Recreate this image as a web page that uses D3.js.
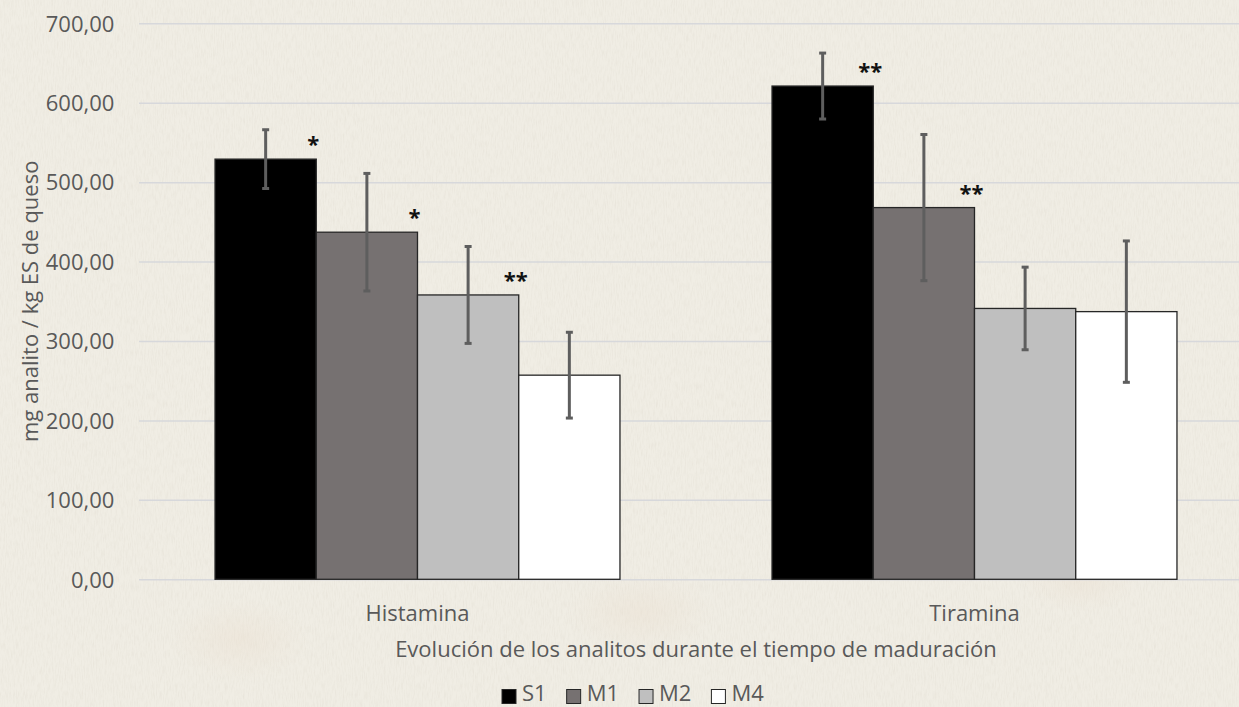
<!DOCTYPE html>
<html>
<head>
<meta charset="utf-8">
<script src="https://cdn.jsdelivr.net/npm/d3@7"></script>
<style>
  html, body { margin: 0; padding: 0; background: #f0ede4; }
  svg { display: block; }
  text { font-family: "Open Sans", "Noto Sans", sans-serif; }
</style>
</head>
<body>
<svg id="chart" width="1239" height="707"></svg>
<script>
// Concentraciones medias (mg analito / kg ES de queso) por analito y muestra
const categories = ["Histamina", "Tiramina"];
const seriesNames = ["S1", "M1", "M2", "M4"];
const valuesS1 = [529, 621];
const valuesM1 = [437, 468];
const valuesM2 = [358, 341];
const valuesM4 = [257, 337];
// Desviaciones (barras de error)
const errorS1 = [37, 41.5];
const errorM1 = [74, 92];
const errorM2 = [61, 52];
const errorM4 = [54, 89];
// Marcas de significación sobre cada barra
const signifS1 = ["*", "**"];
const signifM1 = ["*", "**"];
const signifM2 = ["**", ""];
const signifM4 = ["", ""];
const yTicks = [0, 100, 200, 300, 400, 500, 600, 700];
const yTitle = "mg analito / kg ES de queso";
const xTitle = "Evolución de los analitos durante el tiempo de maduración";

const seriesColors = { S1: "#000000", M1: "#767171", M2: "#bfbfbf", M4: "#ffffff" };

const series = [
  { name: "S1", values: valuesS1, errors: errorS1, signif: signifS1 },
  { name: "M1", values: valuesM1, errors: errorM1, signif: signifM1 },
  { name: "M2", values: valuesM2, errors: errorM2, signif: signifM2 },
  { name: "M4", values: valuesM4, errors: errorM4, signif: signifM4 }
];

const rows = [];
categories.forEach((cat, i) => {
  series.forEach(s => {
    rows.push({ cat, name: s.name, value: s.values[i], err: s.errors[i], sig: s.signif[i] });
  });
});

const W = 1239, H = 707;
const svg = d3.select("#chart");
const textColor = "#595959";
const fontSize = 22;

// Paper-like background
const defs = svg.append("defs");
const paper = defs.append("filter").attr("id", "paper")
  .attr("x", 0).attr("y", 0).attr("width", "100%").attr("height", "100%");
paper.append("feTurbulence").attr("type", "fractalNoise")
  .attr("baseFrequency", "0.9 0.12").attr("numOctaves", 3).attr("seed", 7).attr("result", "n");
paper.append("feColorMatrix").attr("type", "matrix")
  .attr("values", "0 0 0 0 0.55  0 0 0 0 0.50  0 0 0 0 0.42  0 0 0 -0.9 0.55");

const blot = defs.append("radialGradient").attr("id", "blot");
blot.append("stop").attr("offset", "0%").attr("stop-color", "#e9dccc").attr("stop-opacity", 0.35);
blot.append("stop").attr("offset", "100%").attr("stop-color", "#e9dccc").attr("stop-opacity", 0);

svg.append("rect").attr("width", W).attr("height", H).attr("fill", "#f0ede4");
svg.append("rect").attr("width", W).attr("height", H).attr("filter", "url(#paper)").attr("opacity", 0.3);
[[640, 612, 75, 40], [1080, 578, 60, 35], [240, 640, 70, 40]].forEach(b => {
  svg.append("ellipse").attr("cx", b[0]).attr("cy", b[1]).attr("rx", b[2]).attr("ry", b[3])
    .attr("fill", "url(#blot)");
});

// Scales
const x0 = d3.scaleBand().domain(categories).range([139, 1253]).paddingInner(0.273).paddingOuter(0.1365);
const x1 = d3.scaleBand().domain(seriesNames).range([0, x0.bandwidth()]).padding(0);
const y = d3.scaleLinear().domain([0, 700]).range([579.3, 23.3]);

const fmt = v => d3.format(".2f")(v).replace(".", ",");

// Y axis: labels and gridlines
const yAxis = d3.axisLeft(y).tickValues(yTicks).tickFormat(fmt).tickSize(-(1253 - 139)).tickPadding(24);
const gy = svg.append("g").attr("transform", "translate(139,0)").call(yAxis);
gy.select(".domain").remove();
gy.selectAll(".tick line").attr("stroke", "#d7d8db").attr("stroke-width", 1.5);
gy.selectAll(".tick text").attr("fill", textColor).attr("font-size", fontSize)
  .attr("x", -24.7).attr("dy", "0.35em");

// Bars
const bars = svg.append("g");
bars.selectAll("rect").data(rows).join("rect")
  .attr("x", d => x0(d.cat) + x1(d.name))
  .attr("y", d => y(d.value))
  .attr("width", x1.bandwidth())
  .attr("height", d => y(0) - y(d.value))
  .attr("fill", d => seriesColors[d.name])
  .attr("stroke", "#262626").attr("stroke-width", 1.3);

// Error bars
const eb = svg.append("g").attr("stroke", "#5e5e5e").attr("stroke-width", 3);
rows.forEach(d => {
  const cx = x0(d.cat) + x1(d.name) + x1.bandwidth() / 2;
  const top = y(d.value + d.err), bot = y(d.value - d.err);
  eb.append("line").attr("x1", cx).attr("x2", cx).attr("y1", top).attr("y2", bot);
  eb.append("line").attr("x1", cx - 3.5).attr("x2", cx + 3.5).attr("y1", top).attr("y2", top);
  eb.append("line").attr("x1", cx - 3.5).attr("x2", cx + 3.5).attr("y1", bot).attr("y2", bot);
});

// Significance labels
svg.append("g").selectAll("text").data(rows.filter(d => d.sig)).join("text")
  .attr("x", d => x0(d.cat) + x1(d.name) + x1.bandwidth() - 3)
  .attr("y", d => y(d.value) - 7)
  .attr("text-anchor", "middle")
  .attr("font-size", 22).attr("font-weight", 700).attr("fill", "#111")
  .text(d => d.sig);

// Category labels
svg.append("g").selectAll("text").data(categories).join("text")
  .attr("x", d => x0(d) + x0.bandwidth() / 2)
  .attr("y", 621)
  .attr("text-anchor", "middle").attr("fill", textColor).attr("font-size", fontSize)
  .text(d => d);

// Axis titles
svg.append("text").attr("x", (139 + 1253) / 2).attr("y", 656.5)
  .attr("text-anchor", "middle").attr("fill", textColor).attr("font-size", fontSize)
  .text(xTitle);
svg.append("text").attr("transform", `translate(38,${(y(0) + y(700)) / 2}) rotate(-90)`)
  .attr("text-anchor", "middle").attr("fill", textColor).attr("font-size", fontSize)
  .text(yTitle);

// Legend
const legend = svg.append("g").attr("transform", "translate(502,0)");
let lx = 0;
seriesNames.forEach(name => {
  const g = legend.append("g").attr("transform", `translate(${lx},0)`);
  g.append("rect").attr("x", 0).attr("y", 689.5).attr("width", 14).attr("height", 14)
    .attr("fill", seriesColors[name]).attr("stroke", "#262626").attr("stroke-width", 1);
  const t = g.append("text").attr("x", 20).attr("y", 700.5).attr("fill", textColor)
    .attr("font-size", fontSize).text(name);
  lx += 20 + t.node().getComputedTextLength() + 20;
});
</script>
</body>
</html>
